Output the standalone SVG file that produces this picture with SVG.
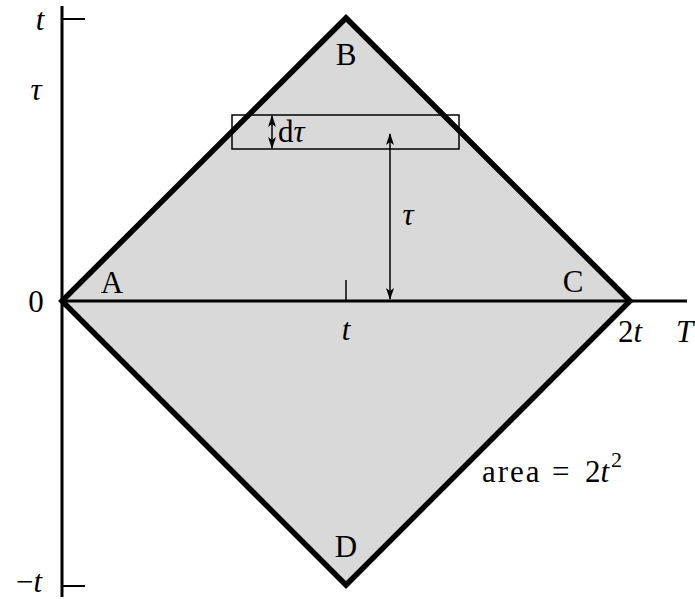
<svg xmlns="http://www.w3.org/2000/svg" width="695" height="599" viewBox="0 0 695 599">
<defs>
<marker id="ah" viewBox="0 0 12 8" refX="11" refY="4" markerWidth="12" markerHeight="8" markerUnits="userSpaceOnUse" orient="auto-start-reverse">
<path d="M0,0 L12,4 L0,8 L3,4 Z" fill="#000"/>
</marker>
<style>
text{font-family:"Liberation Serif","Times New Roman",serif;font-size:31px;fill:#000}
.i{font-style:italic}
.thin{stroke:#000;stroke-width:1.5;fill:none}
</style>
</defs>
<g id="region">
<polygon points="62,301 346,18 630,301 346,585" fill="#d9d9d9" stroke="none"/>
</g>
<g id="strip">
<rect x="232" y="115" width="227" height="34" class="thin"/>
</g>
<g id="axes" stroke="#000" fill="none">
<line x1="62" y1="6" x2="62" y2="597" stroke-width="3"/>
<line x1="62" y1="301" x2="687" y2="301" stroke-width="3"/>
<line x1="62" y1="19" x2="85" y2="19" stroke-width="2"/>
<line x1="62" y1="586" x2="85" y2="586" stroke-width="2"/>
<line x1="346" y1="280" x2="346" y2="301" stroke-width="1.5"/>
</g>
<g id="diamond">
<polygon points="62,301 346,18 630,301 346,585" fill="none" stroke="#000" stroke-width="5.5" stroke-linejoin="miter"/>
</g>
<g id="connectors">
<line x1="272" y1="116" x2="272" y2="148" class="thin" marker-start="url(#ah)" marker-end="url(#ah)"/>
<line x1="390" y1="134" x2="390" y2="299" class="thin" marker-start="url(#ah)" marker-end="url(#ah)"/>
</g>
<g id="labels">
<text x="40" y="30" class="i" text-anchor="middle">t</text>
<text x="36" y="100" class="i" text-anchor="middle">τ</text>
<text x="36" y="312" text-anchor="middle">0</text>
<text x="29" y="592" text-anchor="middle">−<tspan class="i">t</tspan></text>
<text x="112" y="293" text-anchor="middle">A</text>
<text x="346" y="65" text-anchor="middle">B</text>
<text x="573" y="292" text-anchor="middle">C</text>
<text x="346" y="557" text-anchor="middle">D</text>
<text x="346" y="340" class="i" text-anchor="middle">t</text>
<text x="630" y="342" text-anchor="middle">2<tspan class="i">t</tspan></text>
<text x="676" y="342" class="i">T</text>
<text x="408" y="225" class="i" text-anchor="middle">τ</text>
<text x="278" y="142">d<tspan class="i">τ</tspan></text>
<text x="482" y="482" style="letter-spacing:2px">area</text>
<text x="552" y="482">=</text>
<text x="585" y="482">2<tspan class="i">t</tspan></text>
<text x="611" y="467" style="font-size:22px">2</text>
</g>
</svg>
